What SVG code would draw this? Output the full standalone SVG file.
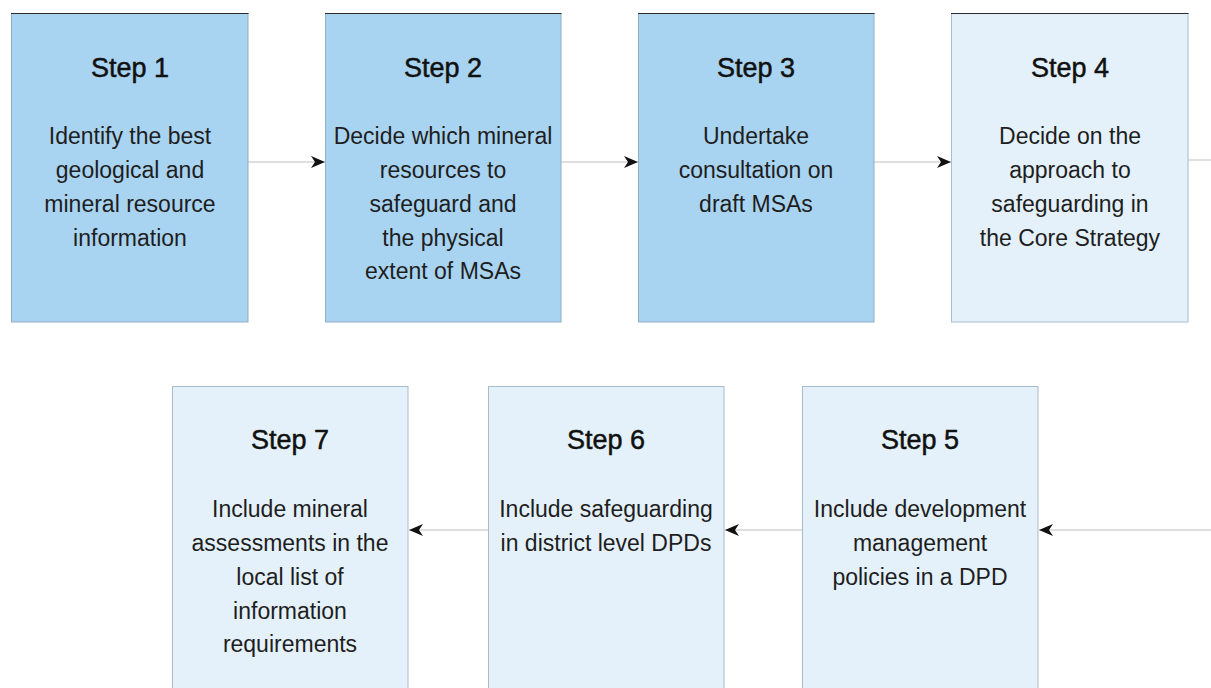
<svg xmlns="http://www.w3.org/2000/svg" width="1211" height="688" viewBox="0 0 1211 688">
<style>
.bg{fill:#ffffff}
.dark{fill:#a9d4f1;stroke:#93aec2;stroke-width:1}
.light{fill:#e4f1fa;stroke:#a9bccb;stroke-width:1}
.topedge{stroke:#2b2b2b;stroke-width:1.2}
.title{font-family:"Liberation Sans",Arial,sans-serif;font-size:27px;fill:#111111;stroke:#111111;stroke-width:0.5;text-anchor:middle}
.body{font-family:"Liberation Sans",Arial,sans-serif;font-size:23px;fill:#1e1e1e;text-anchor:middle}
.conn{stroke:#d4d4d4;stroke-width:1.5;fill:none}
</style>
<defs>
<marker id="arr" markerUnits="userSpaceOnUse" markerWidth="16" markerHeight="14" refX="14" refY="6" orient="auto">
<path d="M0,0 L14,6 L0,12 L4,6 Z" fill="#111"/>
</marker>
</defs>
<rect class="bg" x="0" y="0" width="1211" height="688"/>
<g id="connectors">
<line class="conn" x1="248" y1="162" x2="325" y2="162" marker-end="url(#arr)"/>
<line class="conn" x1="561" y1="162" x2="638" y2="162" marker-end="url(#arr)"/>
<line class="conn" x1="874" y1="162" x2="951" y2="162" marker-end="url(#arr)"/>
<line class="conn" x1="1188" y1="160" x2="1211" y2="160"/>
<line class="conn" x1="1211" y1="530" x2="1039" y2="530" marker-end="url(#arr)"/>
<line class="conn" x1="802" y1="530" x2="725" y2="530" marker-end="url(#arr)"/>
<line class="conn" x1="488" y1="530" x2="409" y2="530" marker-end="url(#arr)"/>
</g>
<g id="step1">
<rect class="dark" x="11.5" y="13.5" width="236.5" height="308.5"/>
<line class="topedge" x1="11" y1="13.5" x2="248.5" y2="13.5"/>
<text class="title" x="130" y="77">Step 1</text>
<text class="body"><tspan x="130" y="144">Identify the best</tspan><tspan x="130" y="178">geological and</tspan><tspan x="130" y="212">mineral resource</tspan><tspan x="130" y="246">information</tspan></text>
</g>
<g id="step2">
<rect class="dark" x="325.5" y="13.5" width="235.5" height="308.5"/>
<line class="topedge" x1="325" y1="13.5" x2="561.5" y2="13.5"/>
<text class="title" x="443" y="77">Step 2</text>
<text class="body"><tspan x="443" y="144">Decide which mineral</tspan><tspan x="443" y="178">resources to</tspan><tspan x="443" y="212">safeguard and</tspan><tspan x="443" y="246">the physical</tspan><tspan x="443" y="279">extent of MSAs</tspan></text>
</g>
<g id="step3">
<rect class="dark" x="638.5" y="13.5" width="235.5" height="308.5"/>
<line class="topedge" x1="638" y1="13.5" x2="874.5" y2="13.5"/>
<text class="title" x="756" y="77">Step 3</text>
<text class="body"><tspan x="756" y="144">Undertake</tspan><tspan x="756" y="178">consultation on</tspan><tspan x="756" y="212">draft MSAs</tspan></text>
</g>
<g id="step4">
<rect class="light" x="951.5" y="13.5" width="236.5" height="308.5"/>
<line class="topedge" x1="951" y1="13.5" x2="1188.5" y2="13.5"/>
<text class="title" x="1070" y="77">Step 4</text>
<text class="body"><tspan x="1070" y="144">Decide on the</tspan><tspan x="1070" y="178">approach to</tspan><tspan x="1070" y="212">safeguarding in</tspan><tspan x="1070" y="246">the Core Strategy</tspan></text>
</g>
<g id="step5">
<rect class="light" x="802.5" y="386.5" width="235.5" height="320"/>
<text class="title" x="920" y="449">Step 5</text>
<text class="body"><tspan x="920" y="517">Include development</tspan><tspan x="920" y="551">management</tspan><tspan x="920" y="585">policies in a DPD</tspan></text>
</g>
<g id="step6">
<rect class="light" x="488.5" y="386.5" width="235.5" height="320"/>
<text class="title" x="606" y="449">Step 6</text>
<text class="body"><tspan x="606" y="517">Include safeguarding</tspan><tspan x="606" y="551">in district level DPDs</tspan></text>
</g>
<g id="step7">
<rect class="light" x="172.5" y="386.5" width="235.5" height="320"/>
<text class="title" x="290" y="449">Step 7</text>
<text class="body"><tspan x="290" y="517">Include mineral</tspan><tspan x="290" y="551">assessments in the</tspan><tspan x="290" y="585">local list of</tspan><tspan x="290" y="619">information</tspan><tspan x="290" y="652">requirements</tspan></text>
</g>
</svg>
